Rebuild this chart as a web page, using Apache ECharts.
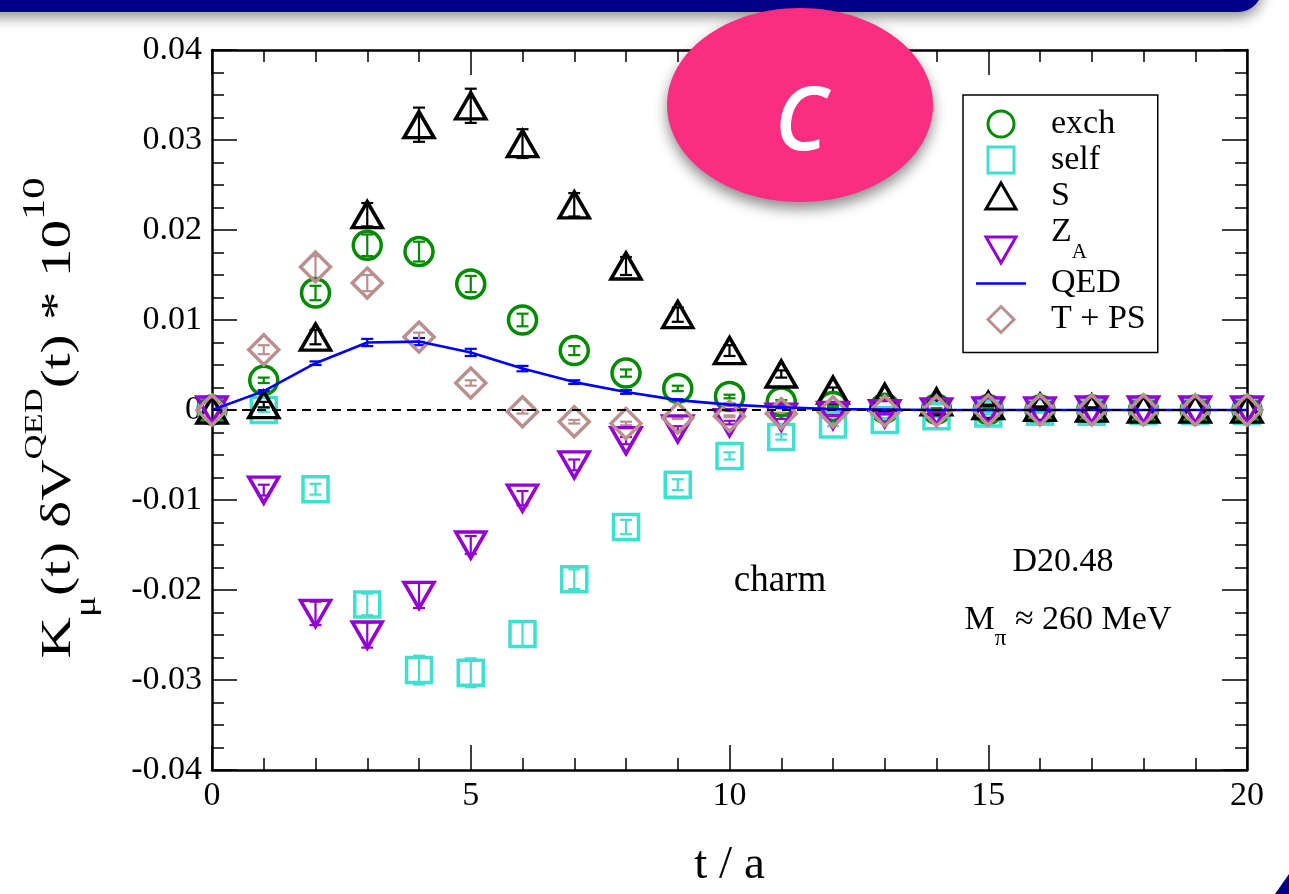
<!DOCTYPE html>
<html>
<head>
<meta charset="utf-8">
<script src="https://cdn.jsdelivr.net/npm/echarts@6/dist/echarts.min.js"></script>
<style>
html,body{margin:0;padding:0;background:#fff;}
#chart{width:1289px;height:894px;}
</style>
</head>
<body>
<div id="chart"></div>
<script>
// ---- data ----
const tValues = [0,1,2,3,4,5,6,7,8,9,10,11,12,13,14,15,16,17,18,19,20];
const xTicks = [0,5,10,15,20];
const yTicks = [-0.04,-0.03,-0.02,-0.01,0,0.01,0.02,0.03,0.04];

const exch    = [0, 0.0033, 0.0130, 0.0183, 0.0176, 0.0140, 0.0100, 0.0066, 0.0041, 0.0024, 0.0015, 0.0009, 0.0004, 0.0002, 0.0001, 0.00005, 0, 0, 0, 0, 0];
const exchErr = [0, 0.0003, 0.0008, 0.0012, 0.0011, 0.0009, 0.0007, 0.0005, 0.0004, 0.0003, 0.0002, 0.0002, 0.0001, 0.0001, 0.0001, 0.0001, 0, 0, 0, 0, 0];

const self    = [0, 0.0000, -0.0088, -0.0216, -0.0289, -0.0292, -0.0249, -0.0188, -0.0130, -0.0083, -0.0051, -0.0030, -0.0016, -0.0011, -0.0007, -0.0004, -0.0002, -0.0002, -0.0001, -0.0001, -0.0001];
const selfErr = [0, 0.0002, 0.0006, 0.0012, 0.0016, 0.0016, 0.0014, 0.0011, 0.0008, 0.0006, 0.0004, 0.0003, 0.0002, 0.0002, 0.0001, 0.0001, 0.0001, 0, 0, 0, 0];

const sVals   = [0, 0.0006, 0.0081, 0.0217, 0.0317, 0.0338, 0.0296, 0.0228, 0.0160, 0.0106, 0.0066, 0.0040, 0.0022, 0.0014, 0.0009, 0.0005, 0.0003, 0.0002, 0.0001, 0.0001, 0.0001];
const sErr    = [0, 0.0003, 0.0008, 0.0013, 0.0019, 0.0019, 0.0016, 0.0013, 0.0010, 0.0008, 0.0006, 0.0004, 0.0003, 0.0002, 0.0002, 0.0001, 0.0001, 0.0001, 0, 0, 0];

const zA      = [0, -0.0089, -0.0226, -0.0250, -0.0206, -0.0150, -0.0098, -0.0061, -0.0034, -0.0021, -0.0014, -0.0008, -0.0006, -0.0004, -0.0002, -0.0001, -0.0001, 0, 0, 0, 0];
const zAErr   = [0, 0.0006, 0.0013, 0.0014, 0.0014, 0.0010, 0.0008, 0.0006, 0.0004, 0.0003, 0.0002, 0.0002, 0.0001, 0.0001, 0.0001, 0, 0, 0, 0, 0, 0];

const qed     = [0, 0.0021, 0.0052, 0.0075, 0.0076, 0.0064, 0.0046, 0.0031, 0.0020, 0.0011, 0.0006, 0.0003, 0.0001, 0.00005, 0, 0, 0, 0, 0, 0, 0];
const qedErr  = [0, 0.0001, 0.0002, 0.0004, 0.0004, 0.0004, 0.0003, 0.0002, 0.0002, 0.0001, 0.0001, 0.0001, 0, 0, 0, 0, 0, 0, 0, 0, 0];

const tps     = [0, 0.0067, 0.0159, 0.0141, 0.0081, 0.0030, -0.0002, -0.0013, -0.0015, -0.0009, -0.0007, -0.0004, -0.0002, -0.0001, -0.0001, 0, 0, 0, 0, 0, 0];
const tpsErr  = [0, 0.0005, 0.0012, 0.0009, 0.0005, 0.0003, 0.0002, 0.0002, 0.0002, 0.0001, 0.0001, 0.0001, 0.0001, 0, 0, 0, 0, 0, 0, 0, 0];

const seriesNames = ['exch', 'self', 'S', 'ZA', 'QED', 'T + PS'];

// ---- styles ----
const SERIF = 'Liberation Serif';
const C_EXCH = '#008b00', C_SELF = '#40e0d0', C_S = '#000000', C_ZA = '#9400d3', C_QED = '#0000ff', C_TPS = '#bc8f8f';
const DOWN_TRI = 'path://M0,0L30,0L15,26Z';
const LEG_ICONS = {
  'exch': 'circle',
  'self': 'path://M0,0L1,0L1,1L0,1Z',
  'S': 'path://M15,0L30,26L0,26Z',
  'ZA': DOWN_TRI,
  'QED': 'path://M0,0L50,0L50,2.6L0,2.6Z',
  'T + PS': 'path://M15,0L30,15L15,30L0,15Z'
};

function pts(vals){ return tValues.map((t,i)=>[t, vals[i]]); }
function errPts(vals, errs){ return tValues.map((t,i)=>[t, vals[i], errs[i]]); }

function errSeries(name, vals, errs, color){
  return {
    type:'custom', name:name+'-err', data:errPts(vals,errs), silent:true,
    renderItem:function(params, api){
      const x = api.value(0), y = api.value(1), e = api.value(2);
      if (!e) return null;
      const p1 = api.coord([x, y - e]), p2 = api.coord([x, y + e]);
      const w = 6;
      const st = {stroke: color, lineWidth: 2.2};
      return {type:'group', children:[
        {type:'line', shape:{x1:p1[0], y1:p1[1], x2:p2[0], y2:p2[1]}, style:st},
        {type:'line', shape:{x1:p1[0]-w, y1:p1[1], x2:p1[0]+w, y2:p1[1]}, style:st},
        {type:'line', shape:{x1:p2[0]-w, y1:p2[1], x2:p2[0]+w, y2:p2[1]}, style:st}
      ]};
    }
  };
}
function scatter(name, vals, color, symbol, size){
  return {
    type:'scatter', name:name, data:pts(vals), symbol:symbol, symbolSize:size,
    itemStyle:{color:'rgba(255,255,255,0)', borderColor:color, borderWidth:3.5, opacity:1}
  };
}

const axisLineStyle = {color:'#000', width:2.5};
function xAxisCfg(pos, labels){
  return {
    type:'value', position:pos, min:xTicks[0], max:xTicks[xTicks.length-1], interval:5,
    axisLine:{show:true, onZero:false, lineStyle:axisLineStyle},
    axisTick:{show:true, inside:true, length:25, lineStyle:{color:'#000', width:1.5}},
    minorTick:{show:true, splitNumber:5, length:12, lineStyle:{color:'#000', width:1.5}},
    splitLine:{show:false}, minorSplitLine:{show:false},
    axisLabel:{show:labels, color:'#000', fontFamily:SERIF, fontSize:34, margin:9},
    name: labels ? 't / a' : '', nameLocation:'middle', nameGap:72,
    nameTextStyle:{color:'#000', fontFamily:SERIF, fontSize:47}
  };
}
function yAxisCfg(pos, labels){
  return {
    type:'value', position:pos, min:yTicks[0], max:yTicks[yTicks.length-1], interval:0.01,
    axisLine:{show:true, onZero:false, lineStyle:axisLineStyle},
    axisTick:{show:true, inside:true, length:25, lineStyle:{color:'#000', width:1.5}},
    minorTick:{show:true, splitNumber:4, length:12, lineStyle:{color:'#000', width:1.5}},
    splitLine:{show:false}, minorSplitLine:{show:false},
    axisLabel:{show:labels, color:'#000', fontFamily:SERIF, fontSize:34, margin:10,
      formatter:function(v){ return Math.abs(v) < 1e-9 ? '0' : v.toFixed(2); }}
  };
}

const legendData = seriesNames.map(n => ({
  name:n, icon:LEG_ICONS[n],
  itemStyle: n === 'QED' ? {borderWidth:0} : {borderWidth:3}
}));

const chart = echarts.init(document.getElementById('chart'), null, {renderer:'canvas'});
const option = {
  backgroundColor:'#ffffff',
  animation:false,
  grid:{left:212, right:42, top:50, bottom:124},
  xAxis:[xAxisCfg('bottom', true), xAxisCfg('top', false)],
  yAxis:[yAxisCfg('left', true), yAxisCfg('right', false)],
  legend:{
    orient:'vertical', left:963, top:95,
    data: legendData,
    itemWidth:50, itemHeight:26, itemGap:2,
    padding:[12,12,16,13],
    borderColor:'#000', borderWidth:1.5, backgroundColor:'#fff',
    selectedMode:false,
    textStyle:{color:'#000', fontFamily:SERIF, fontSize:34, padding:[0,0,0,20],
      rich:{
        n:{fontFamily:SERIF, fontSize:34, lineHeight:26, color:'#000', verticalAlign:'bottom', padding:[0,0,14,0]},
        s:{fontFamily:SERIF, fontSize:21, lineHeight:20, color:'#000', verticalAlign:'bottom', padding:[0,0,0,0]}
      }},
    formatter:function(name){ return name === 'ZA' ? '{n|Z}{s|A}' : name; }
  },
  series:[
    {type:'line', name:'zero', data:[], silent:true,
     markLine:{silent:true, symbol:'none', label:{show:false},
       lineStyle:{color:'#000', width:2, type:[9,6]}, data:[{yAxis:0}]}},
    errSeries('exch', exch, exchErr, C_EXCH),
    scatter('exch', exch, C_EXCH, 'circle', 28),
    errSeries('self', self, selfErr, C_SELF),
    scatter('self', self, C_SELF, 'rect', 25),
    errSeries('S', sVals, sErr, C_S),
    scatter('S', sVals, C_S, 'triangle', [30,26]),
    errSeries('ZA', zA, zAErr, C_ZA),
    scatter('ZA', zA, C_ZA, DOWN_TRI, [30,26]),
    {type:'line', name:'QED', data:pts(qed), symbol:'none', lineStyle:{color:C_QED, width:2.6}, itemStyle:{color:C_QED}},
    errSeries('QED', qed, qedErr, C_QED),
    errSeries('T + PS', tps, tpsErr, C_TPS),
    scatter('T + PS', tps, C_TPS, 'diamond', 30)
  ],
  graphic:[
    // y-axis title (rotated, stretched along its reading direction as in the reference)
    {type:'text', x:83, y:418, rotation:Math.PI/2, scaleX:1.33, scaleY:1, z:10,
     style:{text:'{b|K}{sub|μ}{b|(t) δV}{sup|QED}{b|(t) * 10}{sup2|10}', textAlign:'center', textVerticalAlign:'middle',
       rich:{
         b:{fontFamily:SERIF, fontSize:43, lineHeight:42, fill:'#000', color:'#000', verticalAlign:'bottom', padding:[0,0,24,0]},
         sub:{fontFamily:SERIF, fontSize:30, lineHeight:30, fill:'#000', color:'#000', verticalAlign:'bottom', padding:[0,0,2,0]},
         sup:{fontFamily:SERIF, fontSize:26, lineHeight:26, fill:'#000', color:'#000', verticalAlign:'bottom', padding:[0,0,56,0]},
         sup2:{fontFamily:SERIF, fontSize:32, lineHeight:32, fill:'#000', color:'#000', verticalAlign:'bottom', padding:[0,0,52,0]}
       }}},
    {type:'text', x:780, y:581, z:10,
     style:{text:'charm', fontFamily:SERIF, fontSize:37, fill:'#000', textAlign:'center', textVerticalAlign:'middle'}},
    {type:'text', x:1063, y:562, z:10,
     style:{text:'D20.48', fontFamily:SERIF, fontSize:34, fill:'#000', textAlign:'center', textVerticalAlign:'middle'}},
    {type:'text', x:1068, y:634, z:10,
     style:{text:'{n|M}{s|π}{n| ≈ 260 MeV}', textAlign:'center', textVerticalAlign:'middle',
       rich:{
         n:{fontFamily:SERIF, fontSize:34, lineHeight:32, fill:'#000', color:'#000', verticalAlign:'bottom', padding:[0,0,13,0]},
         s:{fontFamily:SERIF, fontSize:23, lineHeight:22, fill:'#000', color:'#000', verticalAlign:'bottom', padding:[0,0,0,0]}
       }}},
    // slide frame decorations
    {type:'rect', z:20, shape:{x:-30, y:-30, width:1292, height:42, r:[0,0,24,0]},
     style:{fill:'#00008b', shadowBlur:14, shadowOffsetY:5, shadowColor:'rgba(0,0,0,0.45)'}},
    {type:'polygon', z:20, shape:{points:[[1275,894],[1289,874],[1289,894]]}, style:{fill:'#00008b'}},
    // badge
    {type:'ellipse', z:30, shape:{cx:800, cy:105, rx:133, ry:97},
     style:{fill:'#fa2e80', shadowBlur:14, shadowOffsetY:7, shadowColor:'rgba(0,0,0,0.45)'}},
    {type:'text', z:31, x:801, y:125,
     style:{text:'C', fontFamily:'Open Sans', fontSize:88, fontWeight:600, fontStyle:'italic', fill:'#ffffff', textAlign:'center', textVerticalAlign:'middle'}}
  ]
};
chart.setOption(option);
</script>
</body>
</html>
